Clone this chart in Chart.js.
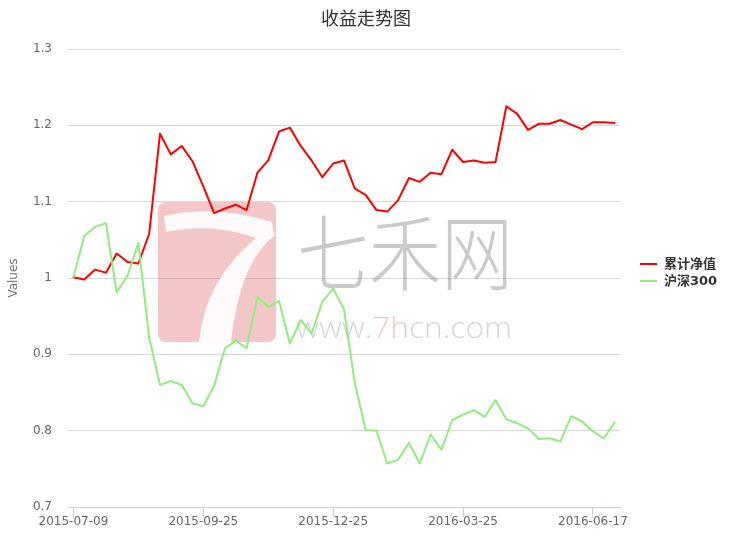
<!DOCTYPE html>
<html>
<head>
<meta charset="utf-8">
<script src="https://cdn.jsdelivr.net/npm/chart.js@4"></script>
<style>
  html, body { margin: 0; padding: 0; background: #fff; }
  #c { display: block; }
</style>
</head>
<body>
<canvas id="c" width="732" height="541"></canvas>
<script>
// ---- data ----
const chartTitle = '收益走势图';
const yAxisTitle = 'Values';
const categories = [
  '2015-07-09','2015-07-10','2015-07-17','2015-07-24','2015-07-31','2015-08-07','2015-08-14','2015-08-21','2015-08-28','2015-09-02',
  '2015-09-11','2015-09-18','2015-09-25','2015-10-09','2015-10-16','2015-10-23','2015-10-30','2015-11-06','2015-11-13','2015-11-20',
  '2015-11-27','2015-12-04','2015-12-11','2015-12-18','2015-12-25','2015-12-31','2016-01-08','2016-01-15','2016-01-22','2016-01-29',
  '2016-02-05','2016-02-19','2016-02-26','2016-03-04','2016-03-11','2016-03-18','2016-03-25','2016-04-01','2016-04-08','2016-04-15',
  '2016-04-22','2016-04-29','2016-05-06','2016-05-13','2016-05-20','2016-05-27','2016-06-03','2016-06-08','2016-06-17','2016-06-24',
  '2016-07-01'
];
const xTickLabels = ['2015-07-09','2015-09-25','2015-12-25','2016-03-25','2016-06-17'];
const seriesNames = ['累计净值','沪深300'];
const navValues = [
  1.001,0.998,1.011,1.007,1.032,1.021,1.019,1.058,1.189,1.162,
  1.173,1.153,1.120,1.085,1.091,1.096,1.089,1.138,1.154,1.192,
  1.197,1.173,1.154,1.132,1.150,1.154,1.117,1.109,1.089,1.087,
  1.102,1.131,1.126,1.138,1.136,1.168,1.152,1.154,1.151,1.152,
  1.225,1.215,1.194,1.202,1.202,1.207,1.201,1.195,1.204,1.204,
  1.203
];
const hs300Values = [
  1.001,1.055,1.067,1.072,0.981,1.003,1.046,0.922,0.860,0.865,
  0.860,0.836,0.832,0.859,0.908,0.918,0.908,0.975,0.962,0.970,
  0.914,0.945,0.927,0.969,0.986,0.959,0.862,0.801,0.800,0.757,
  0.762,0.784,0.757,0.795,0.775,0.814,0.821,0.827,0.818,0.840,
  0.815,0.810,0.803,0.789,0.790,0.786,0.819,0.812,0.799,0.790,
  0.811
];
const yTickLabels = ['0.7','0.8','0.9','1','1.1','1.2','1.3'];
const seriesColors = ['#ff0000', '#90ed7d'];

// ---- decorations ----
const decorPlugin = {
  id: 'decor',
  beforeDatasetsDraw(chart) {
    const ctx = chart.ctx;
    ctx.save();
    // watermark logo (pink square with a white "7")
    ctx.fillStyle = 'rgba(215,70,70,0.30)';
    ctx.beginPath();
    if (ctx.roundRect) ctx.roundRect(158, 202, 118, 140, 8); else ctx.rect(158, 202, 118, 140);
    ctx.fill();
    ctx.fillStyle = 'rgba(255,255,255,0.92)';
    ctx.beginPath();
    ctx.moveTo(164, 216);
    ctx.quadraticCurveTo(215, 204, 272, 222);
    ctx.lineTo(274, 236);
    ctx.quadraticCurveTo(240, 262, 231, 342);
    ctx.lineTo(199, 342);
    ctx.quadraticCurveTo(205, 280, 256, 238);
    ctx.quadraticCurveTo(212, 222, 166, 232);
    ctx.closePath();
    ctx.fill();
    // watermark text
    ctx.fillStyle = 'rgba(140,140,140,0.46)';
    ctx.textAlign = 'left';
    ctx.textBaseline = 'alphabetic';
    ctx.font = '300 74px "Noto Sans CJK SC"';
    const wm = '七禾网';
    const w1 = ctx.measureText(wm).width;
    ctx.save();
    ctx.translate(297, 284);
    ctx.scale(216 / w1, 1.12);
    ctx.fillText(wm, 0, 0);
    ctx.restore();
    ctx.font = '300 30px "Open Sans"';
    const parts = [['www.', 'rgba(150,155,170,0.42)'], ['7h', 'rgba(215,90,90,0.35)'], ['cn.com', 'rgba(150,155,170,0.42)']];
    const total = parts.reduce((s, p) => s + ctx.measureText(p[0]).width, 0);
    ctx.save();
    ctx.translate(296, 338);
    ctx.scale(216 / total, 1);
    let x = 0;
    for (const p of parts) {
      ctx.fillStyle = p[1];
      ctx.fillText(p[0], x, 0);
      x += ctx.measureText(p[0]).width;
    }
    ctx.restore();
    ctx.restore();
  },
  afterDraw(chart) {
    const ctx = chart.ctx;
    ctx.save();
    // title
    ctx.fillStyle = '#333333';
    ctx.font = '18px "Noto Sans CJK SC"';
    ctx.textAlign = 'center';
    ctx.textBaseline = 'middle';
    ctx.fillText(chartTitle, 366, 18);
    // y-axis title
    ctx.save();
    ctx.translate(14, 278);
    ctx.rotate(-Math.PI / 2);
    ctx.fillStyle = '#707070';
    ctx.font = '12px "DejaVu Sans"';
    ctx.fillText(yAxisTitle, 0, 0);
    ctx.restore();
    // legend
    ctx.font = 'bold 13px "DejaVu Sans", "Noto Sans CJK SC"';
    ctx.textAlign = 'left';
    ctx.textBaseline = 'middle';
    chart.data.datasets.forEach((ds, i) => {
      const y = 264 + i * 17;
      ctx.strokeStyle = ds.borderColor;
      ctx.lineWidth = 2;
      ctx.beginPath();
      ctx.moveTo(640, y);
      ctx.lineTo(657, y);
      ctx.stroke();
      ctx.fillStyle = '#333333';
      ctx.fillText(ds.label, 664, y + 1);
    });
    ctx.restore();
  }
};

new Chart(document.getElementById('c'), {
  type: 'line',
  data: {
    labels: categories,
    datasets: [
      { label: seriesNames[0], data: navValues, borderColor: seriesColors[0], backgroundColor: seriesColors[0],
        borderWidth: 2, pointRadius: 0, pointHoverRadius: 0, tension: 0, fill: false, order: 1,
        borderJoinStyle: 'round', borderCapStyle: 'round' },
      { label: seriesNames[1], data: hs300Values, borderColor: seriesColors[1], backgroundColor: seriesColors[1],
        borderWidth: 2, pointRadius: 0, pointHoverRadius: 0, tension: 0, fill: false, order: 0,
        borderJoinStyle: 'round', borderCapStyle: 'round' }
    ]
  },
  options: {
    responsive: false,
    animation: false,
    devicePixelRatio: 1,
    layout: { padding: { top: 49, right: 112, bottom: 0, left: 0 } },
    plugins: {
      legend: { display: false },
      title: { display: false },
      tooltip: { enabled: false }
    },
    scales: {
      x: {
        type: 'category',
        offset: true,
        afterFit(scale) { scale.height = 34; },
        border: { display: true, color: '#C0D0E0', width: 1 },
        grid: {
          offset: false,
          drawOnChartArea: false,
          drawTicks: true,
          tickLength: 10,
          color: (ctx) => (ctx.tick && xTickLabels.includes(ctx.tick.label)) ? '#C0D0E0' : 'rgba(0,0,0,0)'
        },
        ticks: {
          autoSkip: false,
          maxRotation: 0,
          minRotation: 0,
          padding: -2,
          color: '#666666',
          font: { family: 'DejaVu Sans', size: 12 },
          callback: function (value, index) {
            const lab = categories[index];
            return xTickLabels.includes(lab) ? lab : '';
          }
        }
      },
      y: {
        min: 0.7,
        max: 1.3,
        afterFit(scale) { scale.width = 68; },
        border: { display: false },
        grid: {
          drawTicks: false,
          color: (ctx) => (ctx.tick && Math.abs(ctx.tick.value - 0.7) < 1e-9) ? 'rgba(0,0,0,0)' : '#D8D8D8',
          lineWidth: 1
        },
        ticks: {
          stepSize: 0.1,
          padding: 16,
          color: '#666666',
          font: { family: 'DejaVu Sans', size: 12 },
          callback: function (value, index) { return yTickLabels[index]; }
        }
      }
    }
  },
  plugins: [decorPlugin]
});
</script>
</body>
</html>
